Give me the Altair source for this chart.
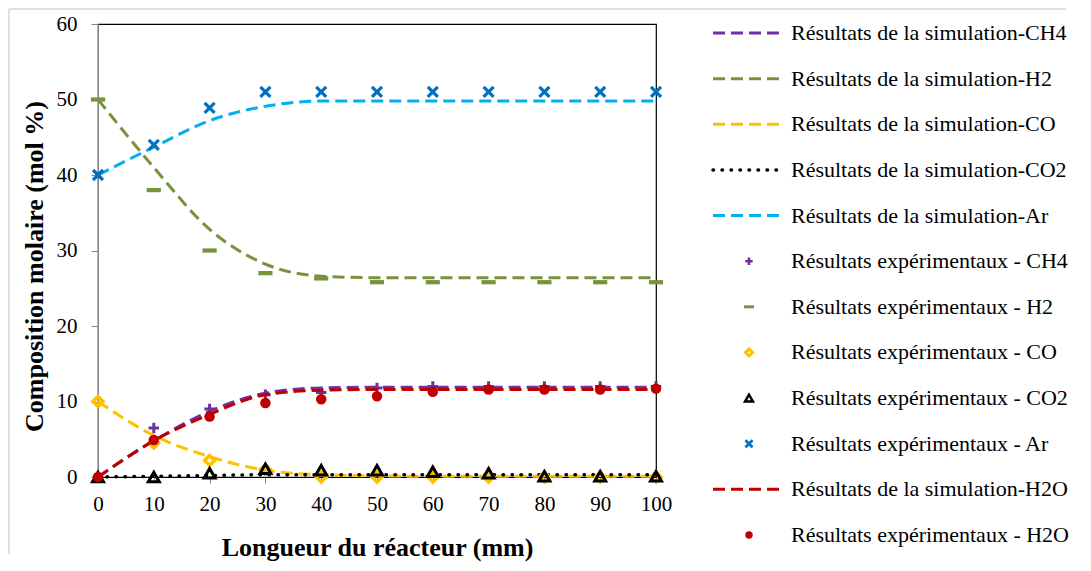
import altair as alt
import pandas as pd

# ---------------- data ----------------
x_mm = [0, 10, 20, 30, 40, 50, 60, 70, 80, 90, 100]

sim_ch4 = [0, 4.8, 8.7, 11.1, 11.8, 11.9, 11.9, 11.9, 11.9, 11.9, 11.9]
sim_h2 = [50, 41.0, 32.8, 28.2, 26.6, 26.4, 26.4, 26.4, 26.4, 26.4, 26.4]
sim_co = [10, 5.5, 2.7, 0.9, 0.3, 0.15, 0.1, 0.1, 0.1, 0.1, 0.1]
sim_co2 = [0, 0.1, 0.2, 0.3, 0.3, 0.3, 0.3, 0.3, 0.3, 0.3, 0.3]
sim_ar = [40, 43.7, 47.2, 49.1, 49.8, 49.8, 49.8, 49.8, 49.8, 49.8, 49.8]
sim_h2o = [0, 4.8, 8.3, 10.9, 11.5, 11.6, 11.6, 11.6, 11.6, 11.6, 11.6]

exp_ch4 = [0, 6.5, 9.0, 10.9, 11.2, 11.8, 12.0, 12.0, 12.0, 12.0, 12.0]
exp_h2 = [50, 38, 30, 27, 26.3, 25.8, 25.8, 25.8, 25.8, 25.8, 25.8]
exp_co = [10, 4.5, 2.2, 1.0, 0, 0, 0, 0, 0, 0, 0]
exp_co2 = [0, 0, 0.5, 1.1, 0.9, 0.9, 0.7, 0.5, 0.1, 0.1, 0.1]
exp_ar = [40, 44, 48.9, 51, 51, 51, 51, 51, 51, 51, 51]
exp_h2o = [0, 4.9, 8.0, 9.8, 10.3, 10.7, 11.3, 11.6, 11.6, 11.6, 11.7]

labels = [
    "Résultats de la simulation-CH4",
    "Résultats de la simulation-H2",
    "Résultats de la simulation-CO",
    "Résultats de la simulation-CO2",
    "Résultats de la simulation-Ar",
    "Résultats expérimentaux - CH4",
    "Résultats expérimentaux - H2",
    "Résultats expérimentaux - CO",
    "Résultats expérimentaux - CO2",
    "Résultats expérimentaux - Ar",
    "Résultats de la simulation-H2O",
    "Résultats expérimentaux - H2O",
]
values = [sim_ch4, sim_h2, sim_co, sim_co2, sim_ar,
          exp_ch4, exp_h2, exp_co, exp_co2, exp_ar,
          sim_h2o, exp_h2o]

# ---------------- styles ----------------
DASH = [12, 6]
PLUS = "M-1,0L1,0M0,-1L0,1"
MINUS = "M-1,-0.3L1,-0.3L1,0.3L-1,0.3Z"
XMARK = "M-1,-1L1,1M-1,1L1,-1"

styles = [
    dict(kind="line", color="#7030A0", dash=DASH, width=3),
    dict(kind="line", color="#77933C", dash=DASH, width=3),
    dict(kind="line", color="#FFC000", dash=DASH, width=3),
    dict(kind="line", color="#000000", dash=[0.5, 8.5], width=3.5, cap="round"),
    dict(kind="line", color="#00B0F0", dash=DASH, width=3),
    dict(kind="point", color="#7030A0", shape=PLUS, size=110, filled=False, sw=3),
    dict(kind="point", color="#77933C", shape=MINUS, size=200, filled=True, sw=0),
    dict(kind="point", color="#FFC000", shape="diamond", size=100, filled=False, sw=3.5),
    dict(kind="point", color="#000000", shape="triangle-up", size=120, filled=False, sw=3),
    dict(kind="point", color="#0070C0", shape=XMARK, size=100, filled=False, sw=3.2),
    dict(kind="line", color="#C00000", dash=DASH, width=3),
    dict(kind="point", color="#C00000", shape="circle", size=110, filled=True, sw=0),
]

FONT = "Liberation Serif"

x_axis = alt.Axis(
    title="Longueur du réacteur (mm)", values=list(range(0, 101, 10)), grid=False,
    domainColor="#000000", tickColor="#868686", tickSize=6, labelPadding=10,
    labelFont=FONT, labelFontSize=21, labelColor="#000000", labelFlush=False,
    labelAngle=0, labelOverlap=False,
    titleFont=FONT, titleFontSize=26, titleFontWeight="bold", titleColor="#000000",
    titlePadding=20,
)
y_axis = alt.Axis(
    title="Composition molaire (mol %)", values=list(range(0, 61, 10)), grid=False,
    domainColor="#868686", tickColor="#868686", tickSize=7, labelPadding=14,
    labelFont=FONT, labelFontSize=21, labelColor="#000000",
    titleFont=FONT, titleFontSize=26, titleFontWeight="bold", titleColor="#000000",
    titlePadding=9, titleY=242,
)
x_enc = alt.X("x:Q", scale=alt.Scale(domain=[0, 100], nice=False), axis=x_axis)
y_enc = alt.Y("y:Q", scale=alt.Scale(domain=[0, 60], nice=False), axis=y_axis)

data_layers = []
for lab, vals, st in zip(labels, values, styles):
    df = pd.DataFrame({"x": x_mm, "y": vals, "serie": lab})
    base = alt.Chart(df)
    if st["kind"] == "line":
        mk = base.mark_line(color=st["color"], strokeDash=st["dash"],
                            strokeWidth=st["width"], strokeCap=st.get("cap", "butt"),
                            interpolate="monotone")
    else:
        mk = base.mark_point(color=st["color"], shape=st["shape"], size=st["size"],
                             filled=st["filled"], strokeWidth=st["sw"], opacity=1)
    data_layers.append(mk.encode(x=x_enc, y=y_enc))

data_group = alt.layer(*data_layers)

# ---------------- custom legend ----------------
leg_df = pd.DataFrame({"label": labels})
leg_y = alt.Y("label:N", sort=labels,
              scale=alt.Scale(type="point", domain=labels, range=[9, 511], padding=0),
              axis=None)
legend_layers = []
for lab, st in zip(labels, styles):
    base = alt.Chart(leg_df).transform_filter(alt.datum.label == lab)
    if st["kind"] == "line":
        mk = base.mark_rule(color=st["color"], strokeDash=st["dash"],
                            strokeWidth=st["width"], strokeCap=st.get("cap", "butt")).encode(
            x=alt.value(615), x2=alt.value(686), y=leg_y)
    else:
        mk = base.mark_point(color=st["color"], shape=st["shape"],
                             size=st["size"] * 0.5, filled=st["filled"],
                             strokeWidth=max(st["sw"] * 0.85, 0), opacity=1).encode(
            x=alt.value(651), y=leg_y)
    legend_layers.append(mk)

legend_text = alt.Chart(leg_df).mark_text(
    align="left", baseline="middle", font=FONT, fontSize=22, color="#000000"
).encode(x=alt.value(693), y=leg_y, text="label:N")
legend_layers.append(legend_text)

# outer chart frame (light grey), top and left edges
frame_df = pd.DataFrame({"a": [0]})
frame_left = alt.Chart(frame_df).mark_rule(color="#BFBFBF", strokeWidth=1).encode(
    x=alt.value(-89), y=alt.value(-15), y2=alt.value(530))
frame_top = alt.Chart(frame_df).mark_rule(color="#BFBFBF", strokeWidth=1).encode(
    x=alt.value(-89), x2=alt.value(968), y=alt.value(-15))
legend_layers += [frame_left, frame_top]

legend_group = alt.layer(*legend_layers)

chart = alt.layer(data_group, legend_group).resolve_scale(y="independent").properties(
    width=558, height=453,
    padding={"left": 0, "top": 0, "right": 5, "bottom": 2},
).configure(font=FONT).configure_view(stroke="#000000", strokeWidth=1.2)

chart.save("out.html", embed_options={"renderer": "svg", "actions": False})
